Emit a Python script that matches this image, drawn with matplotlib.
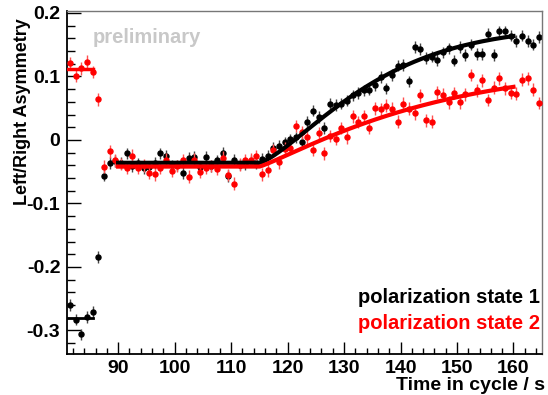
import numpy as np
import matplotlib.pyplot as plt
from matplotlib.ticker import MultipleLocator, FixedLocator

plt.rcParams['font.family'] = ['Liberation Sans', 'DejaVu Sans']
plt.rcParams['font.weight'] = 'bold'
plt.rcParams['axes.unicode_minus'] = False

# 1 s bins across the cycle
t = np.arange(81.5, 165.0, 1.0)

# asymmetry per bin, polarization state 1
asym1 = [
    -0.260, -0.283, -0.306, -0.279, -0.271, -0.184,
    -0.056, -0.036, -0.033, -0.036, -0.021, -0.041, -0.037, -0.044, -0.042, -0.036,
    -0.021, -0.025, -0.040, -0.040, -0.052, -0.028, -0.027, -0.043, -0.027, -0.041,
    -0.032, -0.020, -0.057, -0.031, -0.039, -0.038, -0.033, -0.037, -0.030, -0.025,
    -0.012, -0.009, -0.004, 0.001, 0.004, -0.004, 0.028, 0.046, 0.036, 0.019,
    0.057, 0.055, 0.057, 0.062, 0.070, 0.074, 0.078, 0.079, 0.086, 0.099,
    0.081, 0.102, 0.117, 0.118, 0.092, 0.146, 0.143, 0.129, 0.131, 0.126,
    0.138, 0.144, 0.125, 0.146, 0.134, 0.150, 0.135, 0.135, 0.167, 0.134,
    0.171, 0.171, 0.164, 0.156, 0.164, 0.156, 0.150, 0.162,
]

# asymmetry per bin, polarization state 2
asym2 = [
    0.121, 0.101, 0.113, 0.123, 0.107, 0.064,
    -0.042, -0.018, -0.032, -0.038, -0.044, -0.025, -0.044, -0.040, -0.052, -0.054,
    -0.044, -0.031, -0.049, -0.041, -0.032, -0.058, -0.031, -0.050, -0.044, -0.041,
    -0.045, -0.028, -0.055, -0.069, -0.039, -0.032, -0.031, -0.026, -0.054, -0.048,
    -0.016, -0.035, -0.014, -0.012, 0.022, 0.012, 0.004, -0.016, 0.011, -0.021,
    0.006, 0.002, 0.019, 0.004, 0.037, 0.028, 0.037, 0.019, 0.050, 0.048,
    0.054, 0.049, 0.029, 0.057, 0.049, 0.042, 0.070, 0.031, 0.029, 0.075,
    0.071, 0.059, 0.074, 0.059, 0.072, 0.102, 0.078, 0.094, 0.063, 0.082,
    0.097, 0.081, 0.074, 0.073, 0.095, 0.097, 0.079, 0.058,
]

err1 = 0.009
err2 = 0.010

# fit parameters: level before the step, then a rise starting at t0
pre_t = [81.0, 85.5]
pre_level1 = -0.281
pre_level2 = 0.112
fit_range = (90.0, 160.0)
t0 = 115.0
base1, amp1, lam1, pow1 = -0.036, 0.215, 22.0, 1.35
base2, amp2, lam2, pow2 = -0.042, 0.160, 31.0, 1.15


def rise(x, base, amp, lam, p):
    s = np.clip(x - t0, 0, None)
    return base + amp * (1 - np.exp(-(s / lam) ** p))


fig = plt.figure(figsize=(5.48, 3.95), dpi=100)
ax = fig.add_axes([0.1228, 0.1038, 0.8657, 0.8684])

ax.errorbar(t, asym1, yerr=err1, fmt='o', color='black', ms=3.6,
            elinewidth=1.0, ecolor='#444444', capsize=0, zorder=2)
ax.errorbar(t, asym2, yerr=err2, fmt='o', color='red', ms=3.6,
            elinewidth=1.0, ecolor='#ff5050', capsize=0, zorder=3)

tf = np.linspace(fit_range[0], fit_range[1], 300)
ax.plot(tf, rise(tf, base1, amp1, lam1, pow1), color='black', lw=3, zorder=4)
ax.plot(tf, rise(tf, base2, amp2, lam2, pow2), color='red', lw=3, zorder=5)
ax.plot(pre_t, [pre_level1, pre_level1], color='black', lw=2, zorder=4)
ax.plot(pre_t, [pre_level2, pre_level2], color='red', lw=2.5, zorder=5)

ax.set_xlim(81, 165)
ax.set_ylim(-0.337, 0.203)

ax.xaxis.set_major_locator(FixedLocator([90, 100, 110, 120, 130, 140, 150, 160]))
ax.xaxis.set_minor_locator(MultipleLocator(2))
ax.yaxis.set_major_locator(FixedLocator([-0.3, -0.2, -0.1, 0.0, 0.1, 0.2]))
ax.yaxis.set_minor_locator(MultipleLocator(0.02))
ax.set_yticklabels(['-0.3', '-0.2', '-0.1', '0', '0.1', '0.2'])

ax.tick_params(axis='both', which='both', direction='in', labelsize=14, width=1)
ax.tick_params(axis='y', which='major', length=10, pad=5)
ax.tick_params(axis='y', which='minor', length=5.5)
ax.tick_params(axis='x', which='major', length=8.5, pad=4)
ax.tick_params(axis='x', which='minor', length=4.3)

for side in ['top', 'right']:
    ax.spines[side].set_color('#777777')
    ax.spines[side].set_linewidth(1)
for side in ['left', 'bottom']:
    ax.spines[side].set_color('black')
    ax.spines[side].set_linewidth(1.3)

fig.text(0.041, 0.955, 'Left/Right Asymmetry', rotation=90, ha='center', va='top',
         fontsize=13, fontweight='bold')
fig.text(0.995, 0.012, 'Time in cycle / s', ha='right', va='baseline',
         fontsize=14, fontweight='bold')

ax.text(0.054, 0.922, 'preliminary', transform=ax.transAxes, color='#c8c8c8',
        fontsize=14.5, fontweight='bold', va='center')
ax.text(0.997, 0.165, 'polarization state 1', transform=ax.transAxes, color='black',
        fontsize=14.5, fontweight='bold', ha='right', va='center')
ax.text(0.997, 0.088, 'polarization state 2', transform=ax.transAxes, color='red',
        fontsize=14.5, fontweight='bold', ha='right', va='center')

fig.savefig('out.png', dpi=100)
